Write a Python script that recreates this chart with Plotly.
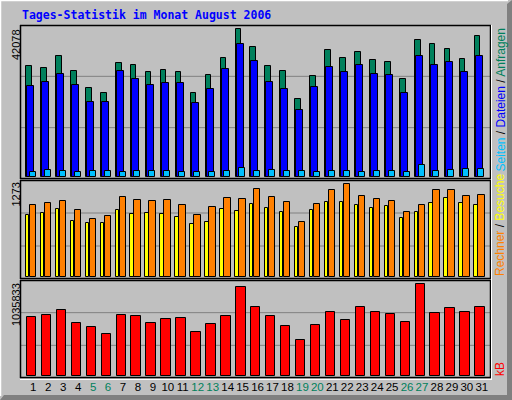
import plotly.graph_objects as go

# ---------------- data ----------------
days = list(range(1, 32))
day_labels = [str(d) for d in days]
weekend_days = [5, 6, 12, 13, 19, 20, 26, 27]

hits = [31511, 30940, 34367, 30083, 25228, 23800, 32368, 31796, 29797, 30368,
        29797, 23800, 28940, 33796, 42078, 36937, 31511, 30083, 22086, 28655,
        36080, 33796, 35509, 33224, 32653, 27798, 38936, 37794, 36366, 33510, 40079]
files = [25799, 26941, 29226, 26085, 21229, 21229, 30083, 27798, 26085, 26656,
         26656, 20944, 24942, 30654, 37794, 32939, 26941, 24942, 19230, 25513,
         31225, 29797, 31796, 29226, 28940, 23800, 34367, 31796, 32653, 29797, 34367]
pages = [1523, 2094, 1809, 1523, 1809, 1809, 1523, 1809, 1809, 1809,
         1523, 1523, 1523, 1809, 2666, 1809, 2094, 1809, 1809, 1523,
         1809, 1809, 1523, 1809, 1809, 1523, 3522, 1809, 2094, 2380, 2380]
visits = [843, 875, 930, 765, 737, 737, 916, 861, 875, 861,
          820, 724, 751, 930, 902, 998, 943, 888, 682, 916,
          1026, 1026, 985, 943, 971, 806, 888, 1012, 1081, 1012, 985]
sites = [985, 1012, 1039, 916, 792, 833, 1094, 1053, 1039, 1053,
         985, 847, 957, 1081, 1067, 1200, 1094, 1026, 751, 998,
         1191, 1273, 1108, 1067, 1039, 888, 985, 1191, 1191, 1108, 1122]
kbytes = [661570, 684252, 740958, 593523, 548158, 468770, 684252, 672911, 593523, 638888,
          650229, 491452, 582182, 672911, 1001806, 774982, 672911, 559499, 400722, 570841,
          718276, 627546, 774982, 718276, 695593, 604864, 1035833, 706935, 763641, 718276, 774982]

title_text = "Tages-Statistik im Monat August 2006"

# ---------------- geometry helpers ----------------
W, H = 512, 400
def px(x):
    return x / W
def py(y):
    return 1 - y / H

UNIT = 14.95          # pixels per day
DAY1 = 33.3           # pixel centre of day 1
PLOT_L, PLOT_R = 20, 491
x_range = [1 - (DAY1 - PLOT_L) / UNIT, 1 + (PLOT_R - DAY1) / UNIT]

def span(p0, p1):
    # bar span in pixels relative to the day centre (outline included)
    return (p0 + 0.5) / UNIT, (p1 - p0 - 1) / UNIT

# panels (top, bottom pixel), bar base padding and pixel of the max bar
panels = [(25, 179, 2.0, 29.3), (180, 279, 2.3, 184.0), (280, 378, 2.3, 284.3)]

def yrange(top, bot, base_pad, max_px, vmax):
    h = bot - top
    f0 = base_pad / h
    f1 = (bot - max_px) / h
    s = vmax / (f1 - f0)
    lo = -f0 * s
    return [lo, lo + s]

C_HITS, C_FILES, C_PAGES = "#00805C", "#0000FF", "#00C0FF"
C_VISITS, C_SITES, C_KB = "#FFFF00", "#FF8000", "#FF0000"
BG = "#C0C0C0"

fig = go.Figure()

def add_bar(vals, color, p0, p1, xa, ya):
    off, wd = span(p0, p1)
    fig.add_trace(go.Bar(
        x=days, y=vals, base=0, offset=off, width=wd,
        marker=dict(color=color, line=dict(color="black", width=1)),
        xaxis=xa, yaxis=ya, showlegend=False, hoverinfo="skip"))

add_bar(hits, C_HITS, -7.6, -1.0, "x", "y")
add_bar(files, C_FILES, -6.6, 1.4, "x", "y")
add_bar(pages, C_PAGES, -4.0, 3.0, "x", "y")
add_bar(visits, C_VISITS, -8.0, -3.6, "x2", "y2")
add_bar(sites, C_SITES, -4.0, 3.4, "x2", "y2")
add_bar(kbytes, C_KB, -7.0, 3.4, "x3", "y3")

max1 = max(hits)
max2 = max(max(visits), max(sites))
max3 = max(kbytes)
maxes = [max1, max2, max3]

tick_text = [
    (f'<span style="color:{C_HITS}">{lab}</span>' if d in weekend_days else lab)
    for d, lab in zip(days, day_labels)
]

axis_common = dict(showgrid=False, zeroline=False, showline=False, fixedrange=True)
layout = dict(
    width=W, height=H, margin=dict(l=0, r=0, t=0, b=0),
    paper_bgcolor=BG, plot_bgcolor="rgba(0,0,0,0)",
    barmode="overlay", bargap=0,
    font=dict(family="Liberation Sans, Arial, sans-serif", size=11, color="black"),
)
names = ["", "2", "3"]
for i, (top, bot, bp, mp) in enumerate(panels):
    xa = "xaxis" + names[i]
    ya = "yaxis" + names[i]
    layout[xa] = dict(axis_common, domain=[px(PLOT_L), px(PLOT_R)], range=x_range,
                      anchor="y" + names[i], showticklabels=False)
    layout[ya] = dict(axis_common, domain=[py(bot), py(top)],
                      range=yrange(top, bot, bp, mp, maxes[i]),
                      anchor="x" + names[i], showticklabels=False)
layout["xaxis3"].update(showticklabels=True, tickmode="array", tickvals=days,
                        ticktext=tick_text, ticks="", tickangle=0,
                        tickfont=dict(family="Liberation Sans, Arial, sans-serif", size=11.5, color="black"))
fig.update_layout(**layout)

shapes = []
# grid lines at thirds
for top, bot, _, _ in panels:
    h = bot - top
    for k in (1, 2):
        yy = top + h * k / 3
        shapes.append(dict(type="line", xref="paper", yref="paper",
                           x0=px(PLOT_L + 1), x1=px(PLOT_R - 1), y0=py(yy), y1=py(yy),
                           line=dict(color="#808080", width=1), layer="below"))
# panel frames
for top, bot, _, _ in panels:
    shapes.append(dict(type="line", xref="paper", yref="paper", x0=px(PLOT_L), x1=px(PLOT_R),
                       y0=py(top + 0.5), y1=py(top + 0.5), line=dict(color="black", width=1.5)))
    shapes.append(dict(type="line", xref="paper", yref="paper", x0=px(PLOT_L + 0.5), x1=px(PLOT_L + 0.5),
                       y0=py(top), y1=py(bot), line=dict(color="black", width=1.5)))
    shapes.append(dict(type="line", xref="paper", yref="paper", x0=px(PLOT_R - 0.5), x1=px(PLOT_R - 0.5),
                       y0=py(top), y1=py(bot), line=dict(color="black", width=1.5)))
    shapes.append(dict(type="line", xref="paper", yref="paper", x0=px(PLOT_L), x1=px(PLOT_R),
                       y0=py(bot - 0.5), y1=py(bot - 0.5), line=dict(color="black", width=1.5)))
shapes.append(dict(type="line", xref="paper", yref="paper", x0=px(PLOT_L), x1=px(PLOT_R + 1),
                   y0=py(379.5), y1=py(379.5), line=dict(color="white", width=1)))
shapes.append(dict(type="line", xref="paper", yref="paper", x0=px(PLOT_R + 0.5), x1=px(PLOT_R + 0.5),
                   y0=py(25), y1=py(380), line=dict(color="white", width=1)))
# outer bevel
shapes.append(dict(type="path", xref="paper", yref="paper",
                   path=f"M {px(512)},{py(0)} L {px(512)},{py(400)} L {px(0)},{py(400)} "
                        f"L {px(4)},{py(395)} L {px(507)},{py(395)} L {px(507)},{py(4)} Z",
                   fillcolor="#808080", line=dict(width=0)))
shapes.append(dict(type="line", xref="paper", yref="paper", x0=px(0), x1=px(508),
                   y0=py(0.5), y1=py(0.5), line=dict(color="white", width=1.5)))
shapes.append(dict(type="line", xref="paper", yref="paper", x0=px(0.5), x1=px(0.5),
                   y0=py(0), y1=py(396), line=dict(color="white", width=1.5)))
fig.update_layout(shapes=shapes)

ann = []
ann.append(dict(text=f"<b>{title_text}</b>", x=px(20), y=py(15), xref="paper", yref="paper",
                xanchor="left", yanchor="middle", showarrow=False,
                font=dict(family="DejaVu Sans Mono", size=11.5, color=C_FILES)))
label_tops = [28, 182, 282]
for val, t in zip(maxes, label_tops):
    ann.append(dict(text=str(val), x=px(15.5), y=py(t), xref="paper", yref="paper",
                    xanchor="center", yanchor="top", textangle=-90, showarrow=False,
                    borderpad=0, font=dict(size=11, color="black")))
slash = '<span style="color:#000000"> / </span>'
top_label = (f'<span style="color:{C_PAGES}">Seiten</span>{slash}'
             f'<span style="color:{C_FILES}">Dateien</span>{slash}'
             f'<span style="color:{C_HITS}">Anfragen</span>')
mid_label = (f'<span style="color:{C_SITES}">Rechner</span>{slash}'
             f'<span style="color:{C_VISITS}">Besuche</span>')
ann.append(dict(text=top_label, x=px(500), y=py(28), xref="paper", yref="paper",
                xanchor="center", yanchor="top", textangle=-90, showarrow=False, borderpad=0,
                font=dict(size=12)))
ann.append(dict(text=mid_label, x=px(500), y=py(277), xref="paper", yref="paper",
                xanchor="center", yanchor="bottom", textangle=-90, showarrow=False, borderpad=0,
                font=dict(size=12)))
ann.append(dict(text=f'<span style="color:{C_KB}">kB</span>', x=px(500), y=py(377),
                xref="paper", yref="paper", xanchor="center", yanchor="bottom", textangle=-90,
                showarrow=False, borderpad=0, font=dict(size=12)))
fig.update_layout(annotations=ann)

fig.write_html("out.html", config={"displayModeBar": False},
               post_script="document.body.style.margin='0';document.body.style.overflow='hidden';")
